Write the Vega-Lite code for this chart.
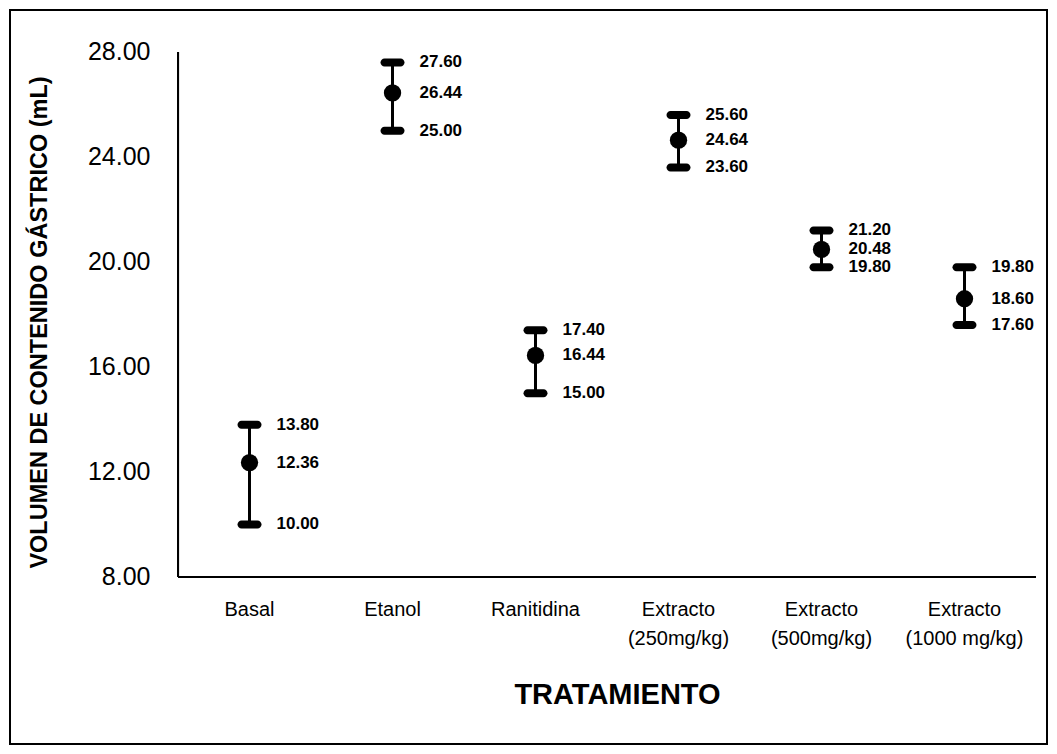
{
  "$schema": "https://vega.github.io/schema/vega-lite/v6.json",
  "width": 1037,
  "height": 734,
  "autosize": {"type": "none"},
  "padding": {"left": 10, "top": 10, "right": 10, "bottom": 10},
  "background": "white",
  "config": {
    "view": {"stroke": "black", "strokeWidth": 2},
    "font": "Liberation Sans",
    "axis": {"grid": false, "domain": false, "ticks": false, "tickSize": 0, "labelColor": "black", "titleColor": "black", "labelFont": "Liberation Sans", "titleFont": "Liberation Sans"}
  },
  "data": {
    "values": [
      {"t": "Basal", "mean": 12.36, "low": 10.0, "high": 13.8},
      {"t": "Etanol", "mean": 26.44, "low": 25.0, "high": 27.6},
      {"t": "Ranitidina", "mean": 16.44, "low": 15.0, "high": 17.4},
      {"t": "Extracto (250mg/kg)", "mean": 24.64, "low": 23.6, "high": 25.6},
      {"t": "Extracto (500mg/kg)", "mean": 20.48, "low": 19.8, "high": 21.2},
      {"t": "Extracto (1000 mg/kg)", "mean": 18.6, "low": 17.6, "high": 19.8}
    ]
  },
  "layer": [
    {
      "mark": {"type": "rule", "color": "black", "strokeWidth": 2},
      "encoding": {
        "x": {"datum": "Basal", "type": "nominal", "bandPosition": 0},
        "y": {"datum": 8, "type": "quantitative"},
        "y2": {"datum": 28}
      }
    },
    {
      "mark": {"type": "rule", "color": "black", "strokeWidth": 2},
      "encoding": {
        "x": {"datum": "Basal", "type": "nominal", "bandPosition": 0},
        "x2": {"datum": "Extracto (1000 mg/kg)", "bandPosition": 1},
        "y": {"datum": 8, "type": "quantitative"}
      }
    },
    {
      "mark": {"type": "rule", "color": "black", "strokeWidth": 3},
      "encoding": {
        "x": {"field": "t", "type": "nominal"},
        "y": {"field": "low", "type": "quantitative"},
        "y2": {"field": "high"}
      }
    },
    {
      "mark": {"type": "tick", "color": "black", "size": 24, "thickness": 8, "cornerRadius": 4, "opacity": 1},
      "encoding": {
        "x": {"field": "t", "type": "nominal"},
        "y": {"field": "low", "type": "quantitative"}
      }
    },
    {
      "mark": {"type": "tick", "color": "black", "size": 24, "thickness": 8, "cornerRadius": 4, "opacity": 1},
      "encoding": {
        "x": {"field": "t", "type": "nominal"},
        "y": {"field": "high", "type": "quantitative"}
      }
    },
    {
      "mark": {"type": "point", "shape": "circle", "filled": true, "color": "black", "size": 300, "opacity": 1},
      "encoding": {
        "x": {"field": "t", "type": "nominal"},
        "y": {"field": "mean", "type": "quantitative"}
      }
    },
    {
      "transform": [{"fold": ["high", "mean", "low"], "as": ["k", "v"]}],
      "mark": {"type": "text", "align": "left", "baseline": "middle", "dx": 27, "fontSize": 17, "fontWeight": "bold", "font": "Liberation Sans", "color": "black"},
      "encoding": {
        "x": {"field": "t", "type": "nominal"},
        "y": {"field": "v", "type": "quantitative"},
        "text": {"field": "v", "type": "quantitative", "format": ".2f"}
      }
    }
  ],
  "encoding": {
    "x": {
      "field": "t",
      "type": "nominal",
      "sort": null,
      "scale": {
        "domain": ["Basal", "Etanol", "Ranitidina", "Extracto (250mg/kg)", "Extracto (500mg/kg)", "Extracto (1000 mg/kg)"],
        "paddingInner": 0,
        "paddingOuter": 0.626,
        "align": 0.9385
      },
      "axis": {
        "orient": "bottom",
        "offset": -167,
        "labelAngle": 0,
        "labelFontSize": 20,
        "labelPadding": 22,
        "labelLineHeight": 29,
        "labelExpr": "indexof(datum.value, 'Extracto') == 0 ? ['Extracto', substring(datum.value, 9)] : datum.value",
        "title": "TRATAMIENTO",
        "titleFontSize": 29,
        "titleFontWeight": "bold",
        "titleX": 607,
        "titlePadding": 32
      }
    },
    "y": {
      "type": "quantitative",
      "scale": {"domain": [1.638, 29.6], "nice": false, "zero": false},
      "axis": {
        "orient": "left",
        "offset": -168,
        "values": [8, 12, 16, 20, 24, 28],
        "format": ".2f",
        "labelFontSize": 25,
        "labelPadding": 28,
        "title": "VOLUMEN DE CONTENIDO GÁSTRICO (mL)",
        "titleFontSize": 23.5,
        "titleFontWeight": "bold",
        "titleY": 312,
        "titlePadding": 36
      }
    }
  }
}
